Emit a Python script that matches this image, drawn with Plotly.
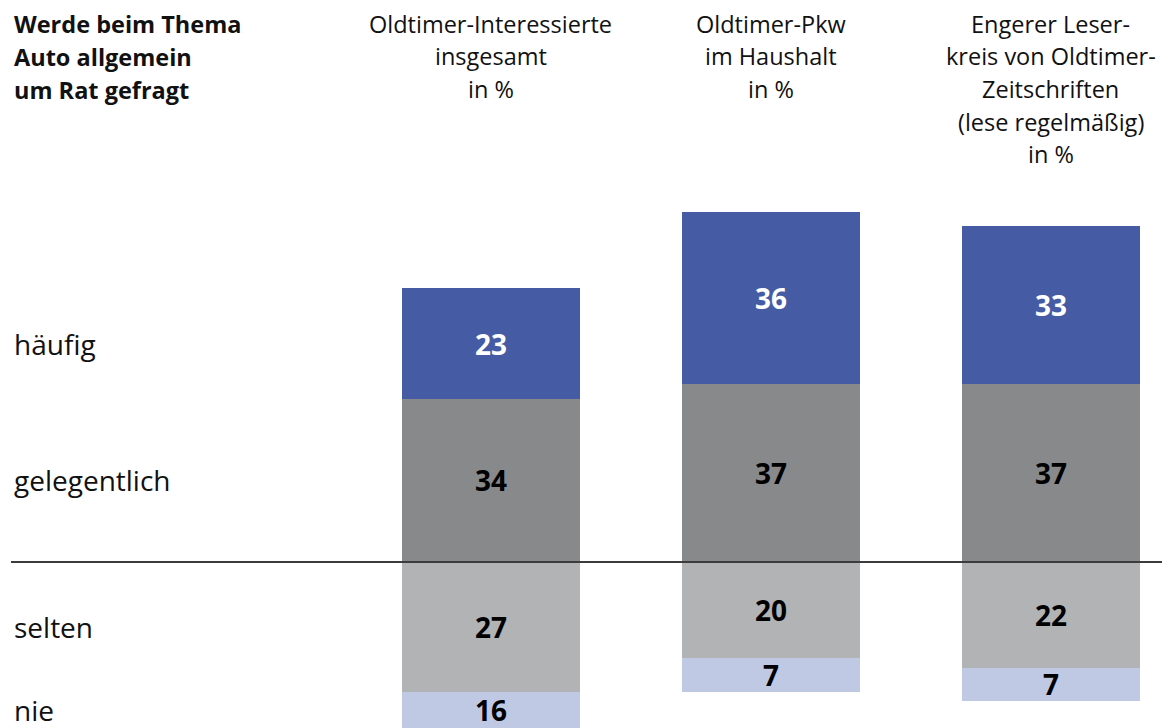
import plotly.graph_objects as go

# ---- data ----
groups = ["Oldtimer-Interessierte insgesamt", "Oldtimer-Pkw im Haushalt",
          "Engerer Leserkreis von Oldtimer-Zeitschriften"]
header_lines = [
    ["Oldtimer-Interessierte", "insgesamt", "in %"],
    ["Oldtimer-Pkw", "im Haushalt", "in %"],
    ["Engerer Leser-", "kreis von Oldtimer-", "Zeitschriften", "(lese regelmäßig)", "in %"],
]
title_lines = ["Werde beim Thema", "Auto allgemein", "um Rat gefragt"]
categories = ["häufig", "gelegentlich", "selten", "nie"]
haeufig = [23, 36, 33]
gelegentlich = [34, 37, 37]
selten = [27, 20, 22]
nie = [16, 7, 7]

# ---- style ----
FONT = "Open Sans"
C_HAEUFIG = "#455BA3"
C_GELEG = "#88898B"
C_SELTEN = "#B2B3B5"
C_NIE = "#BFC9E4"
PAGE_OFF = 8             # default page margin around the figure
W, H = 1170 - PAGE_OFF, 728 - PAGE_OFF
BASE_PX = 562 - PAGE_OFF  # pixel row of the zero line inside the figure
PX_PER_UNIT = 4.8
Y_MAX = BASE_PX / PX_PER_UNIT
Y_MIN = -(H - BASE_PX) / PX_PER_UNIT
X_SPACING = 280.0
X0_PX = 490.5 - PAGE_OFF
X_MIN = -X0_PX / X_SPACING
X_MAX = X_MIN + W / X_SPACING
BAR_W = 178 / X_SPACING
LEFT_X = (12 - PAGE_OFF) / W

fig = go.Figure()
fig.add_trace(go.Bar(x=groups, y=gelegentlich, marker_color=C_GELEG, width=BAR_W, name="gelegentlich"))
fig.add_trace(go.Bar(x=groups, y=haeufig, marker_color=C_HAEUFIG, width=BAR_W, name="häufig"))
fig.add_trace(go.Bar(x=groups, y=[-v for v in selten], marker_color=C_SELTEN, width=BAR_W, name="selten"))
fig.add_trace(go.Bar(x=groups, y=[-v for v in nie], marker_color=C_NIE, width=BAR_W, name="nie"))
for tr in fig.data:
    tr.marker.line.width = 0
    tr.hoverinfo = "skip"


def visible_center(lo, hi):
    lo = max(lo, Y_MIN)
    hi = min(hi, Y_MAX)
    return (lo + hi) / 2


annotations = []
seg_centers = []
for i in range(len(groups)):
    g, h, s, n = gelegentlich[i], haeufig[i], selten[i], nie[i]
    segs = [
        (h, visible_center(g, g + h), "white"),
        (g, visible_center(0, g), "black"),
        (s, visible_center(-s, 0), "black"),
        (n, visible_center(-(s + n), -s), "black"),
    ]
    seg_centers.append([c for _, c, _ in segs])
    for v, c, col in segs:
        annotations.append(dict(x=i, y=c, xref="x", yref="y", text=f"<b>{v}</b>",
                                showarrow=False, font=dict(family=FONT, size=28, color=col),
                                xanchor="center", yanchor="middle"))

# category labels on the left, aligned with the first bar's segments
for cat, c in zip(categories, seg_centers[0]):
    annotations.append(dict(x=LEFT_X, y=c, xref="paper", yref="y", text=cat, showarrow=False,
                            font=dict(family=FONT, size=28, color="#111111"),
                            xanchor="left", yanchor="middle"))

# column headers
for i, lines in enumerate(header_lines):
    for k, line in enumerate(lines):
        annotations.append(dict(x=i, y=1 - (24 - PAGE_OFF + 32.5 * k) / H, xref="x", yref="paper",
                                text=line, showarrow=False,
                                font=dict(family=FONT, size=23.5, color="#111111"),
                                xanchor="center", yanchor="middle"))

# top-left title
for k, line in enumerate(title_lines):
    annotations.append(dict(x=LEFT_X, y=1 - (24 - PAGE_OFF + 33 * k) / H, xref="paper", yref="paper",
                            text=f"<b>{line}</b>", showarrow=False,
                            font=dict(family=FONT, size=23.5, color="#111111"),
                            xanchor="left", yanchor="middle"))

fig.update_layout(
    width=W, height=H, autosize=False,
    margin=dict(l=0, r=0, t=0, b=0),
    barmode="relative", bargap=0,
    showlegend=False,
    plot_bgcolor="white", paper_bgcolor="white",
    xaxis=dict(range=[X_MIN, X_MAX], visible=False, fixedrange=True),
    yaxis=dict(range=[Y_MIN, Y_MAX], visible=False, fixedrange=True),
    annotations=annotations,
    shapes=[dict(type="line", xref="paper", yref="y", x0=(11 - PAGE_OFF) / W, x1=1, y0=0, y1=0,
                 line=dict(color="#3C3C3C", width=2), layer="above")],
)

fig.write_html("out.html")
